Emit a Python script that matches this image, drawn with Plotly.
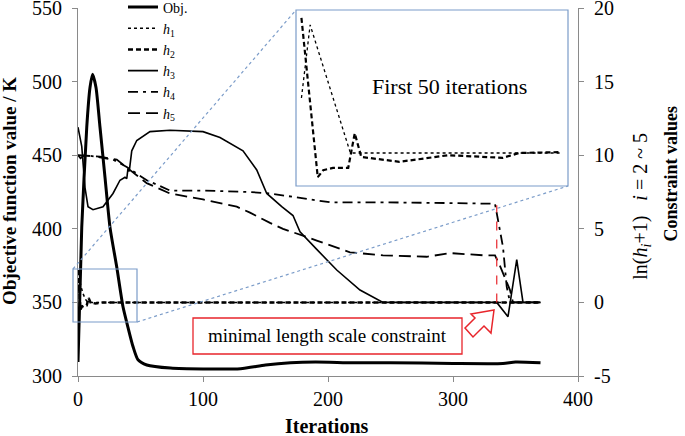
import plotly.graph_objects as go

# objective function (left axis)
obj_iter = [0, 3, 7, 9.6, 11.7, 14.4, 17.6, 21.6, 25.6, 31, 36, 40, 44, 48, 55, 74,
            100, 130, 150, 170, 190, 220, 250, 300, 340, 350, 370]
obj_val = [309.5, 401, 469, 496, 505, 496, 469, 435, 401, 374, 347, 333, 320, 311, 307.5, 305.4,
           304.8, 305, 307.5, 309, 309.5, 309, 309, 308.5, 308.5, 309.5, 309]

# constraint values (right axis)
h1_iter = [0, 1, 2, 4, 6, 8, 10, 370]
h1_val = [0.6, 2.0, 1.2, 0.6, 0.2, 0.0, 0.0, 0.0]

h2_iter = [0, 1, 2, 3, 5, 7, 8.5, 10, 14, 20, 370]
h2_val = [2.2, 0.8, -0.5, -0.3, -0.2, -0.2, 0.3, 0.0, -0.08, 0, 0]

h3_iter = [0, 3, 5.6, 8, 12, 20, 28, 33.6, 37.6, 39, 40, 41, 43, 47, 57.6, 73.6, 100, 113.6,
           132, 143, 151, 163, 172, 177.6, 191, 207, 225.6, 240, 244, 335, 344, 351, 356, 366]
h3_val = [11.9, 10.6, 7.8, 6.5, 6.3, 6.5, 7.4, 8.3, 8.5, 8.4, 9.1, 8.9, 10.3, 11.0, 11.6, 11.7, 11.6, 11.2,
          10.3, 9.0, 7.4, 6.5, 5.9, 4.8, 3.6, 2.2, 0.84, 0.16, 0, 0, -0.97, 2.9, 0, 0]

h4_iter = [0, 2, 5, 15, 28, 39, 55, 73.6, 100, 137.6, 153.6, 201.6, 240, 271, 297.6, 333.6,
           340, 343, 345.6, 370]
h4_val = [10.0, 9.8, 10.0, 9.9, 9.7, 9.2, 8.3, 7.6, 7.6, 7.5, 7.4, 6.8, 6.8, 6.75, 6.75, 6.7,
          3.76, 1.05, 0, 0]

h5_iter = [0, 17.6, 31, 41.6, 55, 73.6, 100, 127, 137.6, 153.6, 164, 191, 217.6, 244, 279,
           297.6, 324, 333.6, 338, 345.6, 348, 370]
h5_val = [10.0, 9.9, 9.7, 9.0, 8.1, 7.4, 7.0, 6.5, 6.1, 5.4, 5.0, 4.2, 3.4, 3.2, 3.1,
          3.35, 3.2, 3.2, 2.4, 0.84, 0, 0]

# inset: first 50 iterations (magnified)
in_h1_iter = [0, 1.6, 9, 10, 47.5]
in_h1_val = [1.25, 2.91, 0, 0, 0]
in_h2_iter = [0, 3, 4, 5.8, 8.6, 9.8, 11, 18, 27, 37, 40, 47.5]
in_h2_val = [3.07, -0.55, -0.39, -0.34, -0.34, 0.45, -0.09, -0.20, -0.05, -0.11, 0, 0.02]

left_ticks = [300, 350, 400, 450, 500, 550]
right_ticks = [-5, 0, 5, 10, 15, 20]
right_ticktext = ["-5", "0", "5", "10", "15", "20"]
x_ticks = [0, 100, 200, 300, 400]

FONT = "Liberation Serif"
GRAY = "#8a8a8a"
BLUE = "#7b9cc9"
RED = "#e8252b"

fig = go.Figure()

fig.add_trace(go.Scatter(x=obj_iter, y=obj_val, name="Obj.", mode="lines",
                         line=dict(color="black", width=3, shape="spline", smoothing=0.6)))
fig.add_trace(go.Scatter(x=h1_iter, y=h1_val, name="<i>h</i><sub>1</sub>", mode="lines", yaxis="y2",
                         line=dict(color="black", width=1.5, dash="dot")))
fig.add_trace(go.Scatter(x=h2_iter, y=h2_val, name="<i>h</i><sub>2</sub>", mode="lines", yaxis="y2",
                         line=dict(color="black", width=2.5, dash="5px,3px")))
fig.add_trace(go.Scatter(x=h3_iter, y=h3_val, name="<i>h</i><sub>3</sub>", mode="lines", yaxis="y2",
                         line=dict(color="black", width=1.6)))
fig.add_trace(go.Scatter(x=h4_iter, y=h4_val, name="<i>h</i><sub>4</sub>", mode="lines", yaxis="y2",
                         line=dict(color="black", width=1.8, dash="10px,5px,3px,5px")))
fig.add_trace(go.Scatter(x=h5_iter, y=h5_val, name="<i>h</i><sub>5</sub>", mode="lines", yaxis="y2",
                         line=dict(color="black", width=1.8, dash="12px,6px")))

# inset traces
fig.add_trace(go.Scatter(x=in_h1_iter, y=in_h1_val, mode="lines", xaxis="x3", yaxis="y3",
                         showlegend=False, line=dict(color="black", width=1.3, dash="dot")))
fig.add_trace(go.Scatter(x=in_h2_iter, y=in_h2_val, mode="lines", xaxis="x3", yaxis="y3",
                         showlegend=False, line=dict(color="black", width=2.2, dash="5px,3px")))

axis_common = dict(showline=True, linecolor=GRAY, linewidth=1.2, ticks="outside", ticklen=5,
                   tickcolor=GRAY, showgrid=False, zeroline=False, ticklabeloverflow="allow",
                   tickfont=dict(family=FONT, size=20, color="black"))

fig.update_layout(
    width=685, height=436,
    margin=dict(l=78, r=107, t=8, b=60, autoexpand=False),
    plot_bgcolor="white", paper_bgcolor="white",
    font=dict(family=FONT, color="black"),
    xaxis=dict(range=[0, 400], tickvals=x_ticks, domain=[0, 1], **axis_common),
    yaxis=dict(range=[300, 550], tickvals=left_ticks, ticklabelstandoff=6, **axis_common),
    yaxis2=dict(range=[-5, 20], tickvals=right_ticks, ticktext=right_ticktext, overlaying="y",
                side="right", anchor="x", ticklabelstandoff=6, **axis_common),
    xaxis3=dict(domain=[0.436, 0.98], range=[-1, 49], visible=False, anchor="y3"),
    yaxis3=dict(domain=[0.5163, 0.9946], range=[-0.75, 3.25], visible=False, anchor="x3"),
    showlegend=True,
    legend=dict(x=0.09, y=1.045, xanchor="left", yanchor="top", bgcolor="rgba(0,0,0,0)",
                font=dict(family=FONT, size=14), itemwidth=30, tracegroupgap=0),
)

shapes = [
    # zoom box and inset frame
    dict(type="rect", xref="paper", yref="paper", x0=-0.01, x1=0.118, y0=0.1467, y1=0.2908,
         line=dict(color=BLUE, width=1.2)),
    dict(type="rect", xref="paper", yref="paper", x0=0.436, x1=0.98, y0=0.5163, y1=0.9946,
         line=dict(color=BLUE, width=1.2)),
    dict(type="line", xref="paper", yref="paper", x0=-0.01, y0=0.2908, x1=0.436, y1=0.9946,
         line=dict(color=BLUE, width=1.2, dash="dot")),
    dict(type="line", xref="paper", yref="paper", x0=0.118, y0=0.1467, x1=0.98, y1=0.5163,
         line=dict(color=BLUE, width=1.2, dash="dot")),
    # red marker
    dict(type="line", xref="x", yref="y2", x0=335, x1=335, y0=0, y1=6.6,
         line=dict(color=RED, width=1.2, dash="dash")),
    dict(type="rect", xref="paper", yref="paper", x0=0.23, x1=0.768, y0=0.0598, y1=0.1576,
         line=dict(color=RED, width=1.3), fillcolor="white", layer="above"),
    dict(type="path", xref="paper", yref="paper",
         path="M 0.832 0.1793 L 0.786 0.1685 L 0.794 0.1576 L 0.774 0.1304 L 0.790 0.1060 "
              "L 0.812 0.1359 L 0.826 0.1168 Z",
         line=dict(color=RED, width=1.5), fillcolor="white"),
]
fig.update_layout(shapes=shapes)

center = dict(xanchor="center", yanchor="middle", showarrow=False)
fig.add_annotation(text="First 50 iterations", xref="x3", yref="y3", x=27.3, y=1.5,
                   font=dict(family=FONT, size=22), **center)
fig.add_annotation(text="minimal length scale constraint", xref="paper", yref="paper",
                   x=0.499, y=0.1087, font=dict(family=FONT, size=19), **center)
fig.add_annotation(text="<b>Iterations</b>", xref="paper", yref="paper", x=0.498, y=-0.135,
                   font=dict(family=FONT, size=20), **center)
fig.add_annotation(text="<b>Objective function value / K</b>", xref="paper", yref="paper",
                   x=-0.136, y=0.503, textangle=-90, font=dict(family=FONT, size=19), **center)
fig.add_annotation(text="ln(<i>h<sub>i</sub></i>+1)   <i>i</i> = 2 ~ 5", xref="paper", yref="paper",
                   x=1.128, y=0.46, textangle=-90, font=dict(family=FONT, size=20), **center)
fig.add_annotation(text="<b>Constraint values</b>", xref="paper", yref="paper",
                   x=1.186, y=0.55, textangle=-90, font=dict(family=FONT, size=18), **center)

# page body has a default 8px margin; drop it so the figure sits at the window origin
fig.write_html("out.html", config={"displayModeBar": False},
               post_script="document.body.style.margin='0';")
